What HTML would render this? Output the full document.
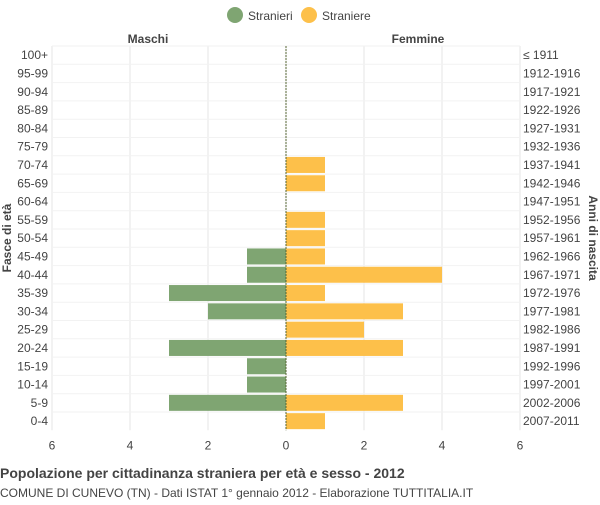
<!DOCTYPE html>
<html><head><meta charset="utf-8"><style>
body{margin:0;background:#fff;font-family:"Liberation Sans",sans-serif;}
svg text{font-family:"Liberation Sans",sans-serif;}
</style></head><body>
<svg id="c" width="600" height="500" xmlns="http://www.w3.org/2000/svg">
<g>
<circle cx="235" cy="15" r="8" fill="#7fa572"/>
<text x="248" y="20" font-size="12" fill="#444">Stranieri</text>
<circle cx="309" cy="15" r="8" fill="#fdc04a"/>
<text x="322" y="20" font-size="12" fill="#444">Straniere</text>
</g>
<text x="148" y="43" font-size="12" font-weight="bold" fill="#444" text-anchor="middle">Maschi</text>
<text x="418" y="43" font-size="12" font-weight="bold" fill="#444" text-anchor="middle">Femmine</text>
<g id="grid"></g><g id="bars"></g><g id="labels"></g>
<text transform="translate(11,238) rotate(-90)" font-size="12" font-weight="bold" fill="#444" text-anchor="middle">Fasce di età</text>
<text transform="translate(589,238) rotate(90)" font-size="12" font-weight="bold" fill="#444" text-anchor="middle">Anni di nascita</text>
<text x="0" y="478" font-size="14" font-weight="bold" fill="#444">Popolazione per cittadinanza straniera per età e sesso - 2012</text>
<text x="0" y="497" font-size="12" fill="#444">COMUNE DI CUNEVO (TN) - Dati ISTAT 1° gennaio 2012 - Elaborazione TUTTITALIA.IT</text>
</svg>
<script>
const ageGroups=["100+","95-99","90-94","85-89","80-84","75-79","70-74","65-69","60-64","55-59","50-54","45-49","40-44","35-39","30-34","25-29","20-24","15-19","10-14","5-9","0-4"];
const birthYears=["≤ 1911","1912-1916","1917-1921","1922-1926","1927-1931","1932-1936","1937-1941","1942-1946","1947-1951","1952-1956","1957-1961","1962-1966","1967-1971","1972-1976","1977-1981","1982-1986","1987-1991","1992-1996","1997-2001","2002-2006","2007-2011"];
const males=[0,0,0,0,0,0,0,0,0,0,0,1,1,3,2,0,3,1,1,3,0];
const females=[0,0,0,0,0,0,1,1,0,1,1,1,4,1,3,2,3,0,0,3,1];
const xTicks=[-6,-4,-2,0,2,4,6];
const NS="http://www.w3.org/2000/svg";
const cx=286,unit=39,plotTop=46,rowH=18.3,bh=16;
const X=v=>cx+v*unit;
const Y=i=>plotTop+rowH*i+rowH/2;
function mk(tag,attrs,parent,txt){const e=document.createElementNS(NS,tag);for(const k in attrs)e.setAttribute(k,attrs[k]);if(txt!==undefined)e.textContent=txt;document.getElementById(parent).appendChild(e);return e;}
const plotBottom=plotTop+rowH*ageGroups.length;
xTicks.forEach(t=>{
 const l=mk('line',{x1:X(t),x2:X(t),y1:plotTop,y2:plotBottom,stroke:'#e4e4e4'},'grid');
 
 
 const tx=mk('text',{x:X(t),y:plotBottom+19,'font-size':12,fill:'#444','text-anchor':'middle'},'labels',Math.abs(t));
 
 
});
ageGroups.forEach((g,i)=>{
 const hl=mk('line',{x1:X(-6),x2:X(6),y1:plotTop+rowH*i,y2:plotTop+rowH*i,stroke:'#f2f2f2'},'grid');
 
 
 const a=mk('text',{x:48,y:Y(i)+4,'font-size':12,fill:'#444','text-anchor':'end'},'labels',g);
 
 
 const b=mk('text',{x:523,y:Y(i)+4,'font-size':12,fill:'#444'},'labels',birthYears[i]);
 
 
 if(males[i]>0){const r=mk('rect',{x:X(-males[i]),y:Y(i)-bh/2,width:males[i]*unit,height:bh,fill:'#7fa572'},'bars');
  
  }
 if(females[i]>0){const r=mk('rect',{x:X(0),y:Y(i)-bh/2,width:females[i]*unit,height:bh,fill:'#fdc04a'},'bars');
  
  }
});
const cl=mk('line',{x1:cx,x2:cx,y1:plotTop,y2:plotBottom,stroke:'#556633','stroke-dasharray':'2,1'},'bars');


</script>
</body></html>
